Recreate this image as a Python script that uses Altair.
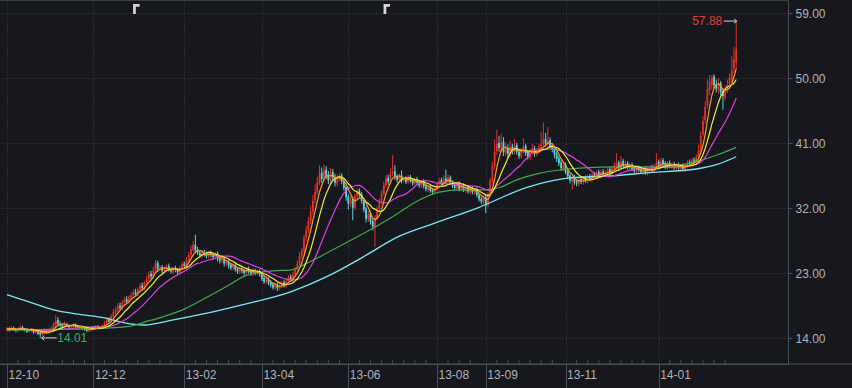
import altair as alt
import pandas as pd

# ---------------- data ----------------
opens = [
 15.1,15.3,15.2,15.4,15.2,15.0,15.3,15.5,15.3,15.1,
 14.9,15.0,15.2,14.8,14.9,14.7,14.5,14.7,14.9,14.8,
 15.0,15.3,15.8,16.5,16.0,15.8,15.6,15.9,15.7,15.5,
 15.6,15.8,15.6,15.4,15.5,15.3,15.2,15.0,15.1,15.3,
 15.4,15.6,15.4,15.5,15.7,16.0,16.6,16.3,17.0,17.5,
 17.9,18.5,18.2,18.9,19.4,19.0,19.6,19.9,20.4,20.1,
 20.7,21.3,20.9,21.6,22.2,22.9,22.5,23.4,24.4,23.6,
 23.8,23.3,23.6,24.0,23.5,23.2,23.7,23.4,23.1,23.7,
 24.3,24.0,24.8,25.5,26.2,26.9,26.2,25.8,25.4,25.9,
 25.7,25.3,25.8,25.5,25.2,25.7,25.1,24.7,24.9,24.3,
 24.5,24.1,23.7,24.1,23.5,23.2,23.6,23.3,23.0,23.6,
 23.2,22.9,23.3,23.0,23.2,22.8,22.3,21.8,22.1,21.7,
 21.4,21.0,21.4,20.9,21.2,21.7,21.3,21.9,22.5,22.1,
 22.8,23.5,24.3,25.4,26.1,27.9,28.9,30.2,31.5,33.1,
 34.2,35.6,36.9,36.0,37.3,36.6,35.8,37.0,36.3,35.4,
 36.1,36.5,35.7,34.9,33.6,32.6,33.3,32.1,33.6,34.4,
 33.9,33.1,31.9,30.5,31.3,30.2,29.3,30.6,31.8,32.9,
 34.0,35.2,36.2,35.6,36.8,37.1,36.3,35.9,36.5,35.8,
 36.1,35.6,36.3,35.8,35.4,36.0,35.6,35.1,35.7,35.0,
 34.5,34.9,34.5,34.2,34.6,35.3,35.9,35.3,36.1,35.6,
 36.2,35.5,35.2,34.8,35.4,34.6,35.1,34.4,34.9,34.2,
 34.7,34.1,34.6,33.8,33.3,32.8,33.5,32.4,34.0,35.7,
 37.8,39.9,41.0,40.2,41.2,39.6,40.3,39.4,40.5,39.8,
 40.7,39.8,39.1,39.8,40.6,39.7,39.0,39.8,40.3,39.4,
 39.8,40.3,40.8,41.6,40.8,41.4,40.7,40.2,39.5,38.9,
 38.3,37.4,38.0,37.1,36.5,35.7,36.3,35.7,35.3,36.0,
 35.6,36.2,35.7,36.4,35.9,36.7,36.3,37.0,36.4,37.1,
 36.6,36.8,37.4,36.7,37.4,37.8,38.3,37.5,38.5,37.7,
 38.2,37.5,38.0,37.5,37.0,37.6,37.3,36.9,37.5,36.8,
 37.2,37.7,37.1,37.8,38.4,37.8,38.6,38.2,37.6,38.3,
 37.7,38.1,37.5,38.0,37.4,37.9,37.3,37.8,38.4,38.0,
 38.7,38.4,39.1,40.1,42.2,44.1,46.2,48.3,49.0,50.2,
 49.1,48.2,49.3,48.2,47.3,48.3,49.2,49.8,51.3,52.2,
]
closes = [
 15.3,15.1,15.4,15.2,15.0,15.3,15.5,15.2,15.1,14.9,
 15.0,15.2,14.8,14.9,14.6,14.5,14.7,14.9,14.8,15.0,
 15.3,15.9,16.4,16.0,15.8,15.6,15.9,15.7,15.5,15.6,
 15.8,15.6,15.4,15.5,15.3,15.2,15.0,15.1,15.3,15.4,
 15.6,15.4,15.5,15.7,16.0,16.5,16.3,17.0,17.6,17.9,
 18.4,18.2,18.9,19.3,19.0,19.6,19.9,20.3,20.1,20.7,
 21.2,20.9,21.6,22.2,22.8,22.5,23.4,24.3,23.6,23.8,
 23.3,23.6,23.9,23.5,23.2,23.6,23.4,23.1,23.7,24.2,
 24.0,24.8,25.5,26.3,26.9,26.1,25.8,25.4,25.9,25.6,
 25.3,25.7,25.5,25.2,25.6,25.0,24.7,24.9,24.3,24.5,
 24.0,23.7,24.1,23.5,23.2,23.6,23.3,23.0,23.5,23.2,
 22.9,23.3,23.0,23.2,22.8,22.2,21.8,22.1,21.6,21.3,
 21.0,21.4,20.9,21.2,21.6,21.3,21.9,22.4,22.1,22.8,
 23.5,24.3,25.4,26.1,27.8,28.9,30.2,31.5,33.0,34.2,
 35.6,36.8,36.0,37.2,36.5,35.8,36.9,36.2,35.5,36.1,
 36.4,35.7,34.8,33.5,32.6,33.2,32.0,33.6,34.3,33.9,
 33.0,31.8,30.5,31.2,30.1,29.4,30.6,31.8,32.9,34.0,
 35.2,36.1,35.6,36.8,37.0,36.3,35.9,36.4,35.8,36.0,
 35.6,36.2,35.8,35.4,35.9,35.5,35.1,35.6,35.0,34.6,
 34.9,34.4,34.2,34.7,35.3,35.8,35.4,36.0,35.7,36.2,
 35.5,35.1,34.8,35.3,34.6,35.0,34.5,34.8,34.3,34.6,
 34.2,34.5,33.8,33.2,32.9,33.4,32.5,33.9,35.8,37.9,
 39.8,40.9,40.3,41.1,39.7,40.2,39.5,40.4,39.9,40.6,
 39.8,39.2,39.9,40.5,39.6,39.1,39.8,40.2,39.5,39.9,
 40.4,40.8,41.5,40.9,41.3,40.6,40.1,39.4,38.8,38.2,
 37.5,37.9,37.0,36.4,35.8,36.2,35.6,35.4,35.9,35.7,
 36.1,35.8,36.3,36.0,36.6,36.4,36.9,36.5,37.0,36.7,
 36.9,37.3,36.8,37.5,37.9,38.2,37.6,38.4,37.8,38.1,
 37.6,37.9,37.4,37.1,37.5,37.2,37.0,37.4,36.9,37.3,
 37.6,37.2,37.8,38.3,37.9,38.5,38.1,37.7,38.2,37.8,
 38.0,37.6,37.9,37.5,37.8,37.4,37.9,38.3,38.1,38.6,
 38.5,39.0,40.0,42.0,44.0,46.0,48.5,49.5,50.0,49.0,
 48.5,49.0,48.0,47.5,48.5,49.0,50.0,51.0,52.5,54.0,
]
highs = [
 15.5,15.5,15.7,15.6,15.4,15.5,15.8,15.7,15.4,15.3,
 15.2,15.4,15.3,15.1,15.0,14.9,14.9,15.1,15.1,15.3,
 15.6,16.2,17.2,16.9,16.3,16.0,16.3,16.1,15.9,15.8,
 16.0,16.0,15.8,15.7,15.7,15.5,15.4,15.3,15.5,15.6,
 15.8,15.8,15.7,15.9,16.3,16.9,16.9,17.3,18.0,18.3,
 18.8,18.9,19.2,19.7,19.8,19.9,20.3,20.7,20.8,21.0,
 21.6,21.7,21.9,22.6,23.2,23.3,23.8,24.8,24.7,24.1,
 24.1,23.9,24.2,24.3,23.8,23.9,24.0,23.7,24.0,24.6,
 24.6,25.2,25.9,26.8,27.4,28.3,26.6,26.1,26.2,26.2,
 26.0,26.0,26.1,25.8,25.9,26.0,25.4,25.2,25.2,24.8,
 24.8,24.4,24.4,24.4,23.8,23.9,23.9,23.6,23.8,23.9,
 23.5,23.6,23.6,23.5,23.5,23.1,22.6,22.4,22.4,22.0,
 21.7,21.7,21.7,21.5,21.9,22.0,22.2,22.7,22.8,23.2,
 23.8,24.7,25.9,26.5,28.3,29.5,30.8,32.3,33.8,35.3,
 36.3,37.9,37.6,38.0,37.8,37.1,37.5,37.4,36.7,36.6,
 36.8,36.8,36.0,35.2,33.9,33.6,33.6,34.0,34.7,34.7,
 34.2,33.4,32.2,31.6,31.6,30.5,31.0,32.2,33.3,34.4,
 35.6,36.6,36.6,37.5,39.3,37.9,36.7,36.8,37.2,36.4,
 36.4,36.6,36.6,36.1,36.2,36.3,35.9,35.9,36.0,35.3,
 35.2,35.2,34.8,35.0,35.6,36.2,36.2,36.5,37.3,36.6,
 36.5,35.8,35.5,35.6,35.7,35.3,35.4,35.1,35.2,34.9,
 35.0,34.8,34.9,34.1,33.6,33.7,33.8,34.2,36.2,38.4,
 41.5,42.8,42.0,42.3,41.8,41.0,40.8,41.3,40.9,41.6,
 41.0,40.2,40.3,41.7,40.9,40.0,40.2,40.9,40.6,40.3,
 40.9,42.6,43.8,42.4,43.2,41.8,41.0,40.5,39.8,39.2,
 38.6,38.3,38.3,37.4,36.8,36.5,36.6,36.0,36.2,36.3,
 36.4,36.5,36.6,36.7,36.9,37.0,37.2,37.3,37.3,37.4,
 37.2,37.6,37.7,37.8,38.3,39.6,38.6,39.2,38.8,38.5,
 38.5,38.2,38.3,37.8,37.8,37.9,37.6,37.7,37.8,37.6,
 37.9,38.0,38.1,39.6,38.7,38.9,38.9,38.5,38.5,38.6,
 38.3,38.4,38.2,38.3,38.1,38.2,38.2,38.6,38.7,38.9,
 39.0,39.4,40.8,42.6,44.7,46.8,49.8,50.4,50.4,50.5,
 49.8,50.0,49.6,48.6,49.0,49.8,50.6,53.0,54.3,57.88,
]
lows = [
 14.9,14.9,15.0,15.0,14.8,14.8,15.1,15.0,14.9,14.7,
 14.7,14.8,14.6,14.6,14.4,14.01,14.3,14.5,14.6,14.6,
 14.8,15.1,15.6,15.7,15.5,15.3,15.4,15.5,15.3,15.3,
 15.4,15.4,15.2,15.2,15.1,15.0,14.8,14.8,14.9,15.1,
 15.2,15.2,15.2,15.3,15.5,15.8,16.0,16.1,16.8,17.2,
 17.6,17.9,17.9,18.6,18.7,18.7,19.3,19.6,19.8,19.8,
 20.4,20.6,20.6,21.3,21.9,22.1,22.2,23.1,23.2,23.3,
 23.0,23.0,23.3,23.2,22.9,22.9,23.1,22.8,22.8,23.4,
 23.7,23.8,24.5,25.2,25.9,25.7,25.5,25.1,25.1,25.3,
 25.0,25.0,25.2,24.9,24.9,24.6,24.3,24.4,23.9,24.0,
 23.6,23.4,23.4,23.2,22.9,22.9,23.0,22.6,22.7,22.9,
 22.6,22.6,22.7,22.7,22.5,21.9,21.5,21.5,21.3,21.0,
 20.7,20.7,20.5,20.6,20.9,21.0,21.0,21.6,21.8,21.8,
 22.5,23.2,24.0,25.0,25.8,27.4,28.5,29.8,31.0,32.6,
 33.8,35.2,35.5,35.6,36.0,35.3,35.4,35.8,35.0,35.0,
 35.7,35.3,34.4,33.0,31.8,32.2,30.3,31.7,33.2,33.5,
 32.6,31.4,30.0,30.1,29.7,28.9,26.6,30.3,31.4,32.5,
 33.7,34.8,35.2,35.3,36.4,35.9,35.5,35.6,35.4,35.5,
 35.3,35.3,35.5,35.1,35.1,35.2,34.8,34.8,34.7,34.3,
 34.2,34.1,33.8,33.9,34.3,35.0,35.0,35.0,35.3,35.3,
 35.2,34.8,34.5,34.5,34.3,34.3,34.2,34.1,34.0,33.9,
 33.9,33.8,33.5,32.9,32.5,32.5,31.3,32.1,33.7,35.4,
 37.4,39.4,39.8,39.8,39.2,39.2,38.9,39.0,39.4,39.4,
 39.4,38.8,38.8,39.5,39.2,38.7,38.7,39.4,39.1,39.1,
 39.5,40.0,40.5,40.5,40.5,40.2,39.7,38.9,38.4,37.8,
 37.1,37.1,36.7,36.0,35.4,34.5,35.2,35.0,35.0,35.3,
 35.2,35.5,35.4,35.7,35.6,36.1,36.0,36.2,36.1,36.4,
 36.3,36.5,36.5,36.4,37.1,37.5,37.2,37.2,37.5,37.4,
 37.3,37.2,37.1,36.8,36.7,36.9,36.7,36.6,36.6,36.5,
 36.9,36.9,36.8,37.5,37.6,37.5,37.8,37.4,37.3,37.5,
 37.4,37.3,37.2,37.2,37.1,37.1,37.0,37.5,37.8,37.7,
 38.1,38.2,38.9,39.8,41.9,43.7,45.8,47.6,48.4,48.6,
 48.0,47.8,47.6,45.6,46.9,47.9,48.7,49.4,50.7,51.2,
]

# long moving averages (MA60 green, MA120 cyan) read at sample positions
ma60_idx = [0, 20, 40, 55, 62, 70, 80, 90, 100, 106, 112, 120, 128, 135, 142, 150,
            161, 174, 186, 195, 205, 215, 222, 230, 240, 250, 262, 275, 295, 305, 313, 320, 329]
ma60_val = [15.1, 15.2, 15.3, 15.6, 16.2, 16.9, 18.0, 19.6, 21.3, 22.4, 23.0, 23.3, 23.4, 24.3, 25.4, 26.7,
            28.5, 30.8, 33.1, 34.2, 34.5, 34.5, 34.8, 35.9, 36.8, 37.3, 37.6, 37.7, 37.7, 38.0, 38.6, 39.3, 40.4]
ma120_idx = [0, 10, 21, 32, 44, 53, 62, 75, 88, 106, 128, 145, 160, 177, 193, 213, 235, 255, 270, 290, 311, 320, 329]
ma120_val = [20.0, 19.0, 17.9, 17.3, 16.8, 16.1, 15.8, 16.5, 17.3, 18.6, 20.4, 22.6, 25.1, 28.1, 29.9, 32.1,
             34.9, 36.2, 36.4, 36.9, 37.4, 38.0, 39.1]

# axis labels
month_idx = [0, 39, 80, 115, 154, 194, 216, 252, 294]
month_lbl = ["12-10", "12-12", "13-02", "13-04", "13-06", "13-08", "13-09", "13-11", "14-01"]
minor_idx = [5, 10, 15, 20, 25, 30, 35, 44, 49, 54, 59, 64, 69, 74, 85, 90, 95, 100, 105, 110,
             120, 125, 130, 135, 140, 145, 150, 159, 164, 169, 174, 179, 184, 189, 199, 204, 209,
             221, 226, 231, 236, 241, 246, 257, 262, 267, 272, 277, 282, 287, 299, 304, 309, 314, 319, 324]
price_ticks = [14, 23, 32, 41, 50, 59]

# annotations
hi_idx, hi_val, hi_txt = [329], [57.88], ["57.88"]
lo_idx, lo_val, lo_txt = [15], [14.01], ["14.01"]
marker_idx = [57, 170]

# ---------------- styling ----------------
BG = "#16181d"
GRID = "#3a3d45"
AXIS = "#4a4d55"
LABEL = "#b0b2b6"
RED = "#e2302b"
CYAN = "#58d3dc"
FONT = "Liberation Sans"

n = len(closes)
df = pd.DataFrame({"i": list(range(n)), "open": opens, "close": closes,
                   "high": highs, "low": lows})

xscale = alt.Scale(domain=[-0.891, 350.1], nice=False, zero=False)
yscale = alt.Scale(domain=[10.4, 60.8], nice=False, zero=False)

label_expr = "".join(f"datum.value == {v} ? '{l}' : " for v, l in zip(month_idx, month_lbl)) + "''"

xaxis = alt.Axis(values=month_idx, labelExpr=label_expr, title=None,
                 grid=True, gridColor=GRID, gridDash=[1, 2], gridWidth=1,
                 domain=True, domainColor=AXIS, ticks=True, tickColor=AXIS, tickSize=24,
                 labelColor=LABEL, labelFont=FONT, labelFontSize=12, labelAlign="left",
                 labelBaseline="top", labelPadding=-19, labelOffset=1,
                 labelFlush=False, labelOverlap=False)
yaxis = alt.Axis(values=price_ticks, format=".2f", orient="right", title=None,
                 grid=True, gridColor=GRID, gridDash=[1, 2], gridWidth=1,
                 domain=True, domainColor=AXIS, ticks=True, tickColor=AXIS, tickSize=4,
                 labelColor=LABEL, labelFont=FONT, labelFontSize=12, labelPadding=3,
                 labelFlush=False, labelOverlap=False)


def X(field="i"):
    return alt.X(f"{field}:Q", scale=xscale, axis=xaxis)


def Y(field):
    return alt.Y(f"{field}:Q", scale=yscale, axis=yaxis)


base = alt.Chart(df)
updown = alt.condition("datum.close >= datum.open", alt.value(RED), alt.value(CYAN))

wicks = base.mark_rule(strokeWidth=1).encode(
    x=X(), y=Y("low"), y2="high:Q", color=updown)
bodies = base.mark_bar(width=1.8).encode(
    x=X(), y=Y("open"), y2="close:Q", color=updown)

ma_base = base.transform_window(
    ma5="mean(close)", frame=[-4, 0], sort=[{"field": "i"}]
).transform_window(
    ma10="mean(close)", frame=[-9, 0], sort=[{"field": "i"}]
).transform_window(
    ma20="mean(close)", frame=[-19, 0], sort=[{"field": "i"}]
)


def ma_line(field, color):
    return ma_base.mark_line(color=color, strokeWidth=1.2).encode(x=X(), y=Y(field))


ma5 = ma_line("ma5", "#f59a23")
ma10 = ma_line("ma10", "#f2ef3a")
ma20 = ma_line("ma20", "#e03ee0")

ma60 = alt.Chart(pd.DataFrame({"i": ma60_idx, "v": ma60_val})).mark_line(
    color="#3cab48", strokeWidth=1.2, interpolate="monotone").encode(x=X(), y=Y("v"))
ma120 = alt.Chart(pd.DataFrame({"i": ma120_idx, "v": ma120_val})).mark_line(
    color="#7ee6ee", strokeWidth=1.3, interpolate="monotone").encode(x=X(), y=Y("v"))

# annotations
hi_df = pd.DataFrame({"i": hi_idx, "v": hi_val, "t": hi_txt})
lo_df = pd.DataFrame({"i": lo_idx, "v": lo_val, "t": lo_txt})

hi_text = alt.Chart(hi_df).mark_text(align="right", baseline="middle", dx=-14,
                                     font=FONT, fontSize=12, color="#e0403a").encode(
    x=X(), y=Y("v"), text="t:N")
hi_arrow = alt.Chart(hi_df).mark_point(
    shape="M-1,0H1M0.62,-0.33L1,0L0.62,0.33", filled=False, stroke="#d8d8d8",
    strokeWidth=1, size=169, xOffset=-6, opacity=1).encode(x=X(), y=Y("v"))

lo_text = alt.Chart(lo_df).mark_text(align="left", baseline="middle", dx=17,
                                     font=FONT, fontSize=12, color="#3aae62").encode(
    x=X(), y=Y("v"), text="t:N")
lo_arrow = alt.Chart(lo_df).mark_point(
    shape="M-1,0H1M-0.66,-0.3L-1,0L-0.66,0.3", filled=False, stroke="#d8d8d8",
    strokeWidth=1, size=225, xOffset=9, opacity=1).encode(x=X(), y=Y("v"))

markers = alt.Chart(pd.DataFrame({"i": marker_idx})).mark_point(
    shape="M-0.65,-1H0.65V-0.45H-0.1V1H-0.65Z", filled=True, fill="#d6d6d6",
    strokeWidth=0, size=100, xOffset=3, opacity=1).encode(x=X(), y=alt.value(9))

minor = alt.Chart(pd.DataFrame({"i": minor_idx})).mark_rule(color=AXIS, strokeWidth=1).encode(
    x=X(), y=alt.value(360), y2=alt.value(364))

bottom_line = alt.Chart(pd.DataFrame({"a": [0]})).mark_rule(color=AXIS, strokeWidth=1).encode(
    x=alt.value(0), x2=alt.value(852), y=alt.value(364))
top_line = alt.Chart(pd.DataFrame({"a": [0]})).mark_rule(color="#3a3d44", strokeWidth=1).encode(
    x=alt.value(0), x2=alt.value(788), y=alt.value(0.5))

chart = alt.layer(
    wicks, bodies, ma120, ma60, ma20, ma10, ma5,
    hi_text, hi_arrow, lo_text, lo_arrow, markers, minor, bottom_line, top_line,
).properties(
    width=788, height=364, background=BG,
    padding={"left": 0, "top": 0, "right": 64, "bottom": 24},
    autosize=alt.AutoSizeParams(type="none"),
).configure_view(strokeWidth=0)

chart.save("out.html", embed_options={"renderer": "svg", "actions": False})
